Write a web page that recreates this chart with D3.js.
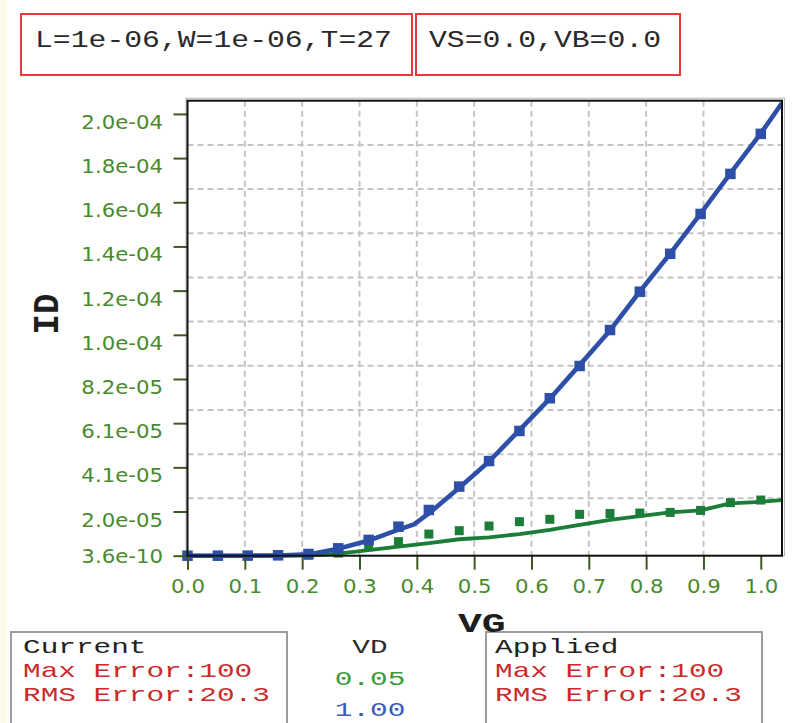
<!DOCTYPE html>
<html>
<head>
<meta charset="utf-8">
<script src="https://cdn.jsdelivr.net/npm/d3@7"></script>
<style>
  html, body { margin: 0; padding: 0; background: #ffffff; }
  svg { display: block; }
</style>
</head>
<body>
<svg id="chart" width="792" height="723"></svg>
<script>
// Gate voltage sweep points
const vg = [0, 0.053, 0.105, 0.158, 0.211, 0.263, 0.316, 0.368, 0.421, 0.474,
            0.526, 0.579, 0.632, 0.684, 0.737, 0.789, 0.842, 0.895, 0.947, 1.0];

// Measured drain current (A), one array per drain bias
const idMeasVd005 = [3.6e-10, 1e-9, 5e-9, 2e-8, 2e-7, 1.2e-6, 4.2e-6, 6.5e-6, 1.0e-5, 1.155e-5,
                     1.37e-5, 1.57e-5, 1.68e-5, 1.91e-5, 1.95e-5, 1.97e-5, 2.0e-5, 2.09e-5, 2.45e-5, 2.57e-5];
const idMeasVd100 = [3.6e-10, 1e-8, 5e-8, 2e-7, 8e-7, 3.4e-6, 7.3e-6, 1.34e-5, 2.11e-5, 3.19e-5,
                     4.37e-5, 5.76e-5, 7.27e-5, 8.76e-5, 1.042e-4, 1.219e-4, 1.394e-4, 1.578e-4, 1.763e-4, 1.948e-4];

// Simulated curves
const vgModel = [0, 0.053, 0.105, 0.158, 0.211, 0.263, 0.316, 0.368, 0.395, 0.421, 0.474,
                 0.526, 0.579, 0.632, 0.684, 0.737, 0.789, 0.842, 0.895, 0.947, 1.0, 1.037];
const idModelVd005 = [0, 0, 0, 0, 1e-7, 1.0e-6, 2.6e-6, 4.2e-6, 5.0e-6, 5.8e-6, 7.6e-6,
                      8.5e-6, 1.0e-5, 1.19e-5, 1.42e-5, 1.65e-5, 1.83e-5, 2.0e-5, 2.09e-5, 2.42e-5, 2.49e-5, 2.57e-5];
const idModelVd100 = [0, 0, 0, 1e-7, 6e-7, 3.2e-6, 7.0e-6, 1.2e-5, 1.45e-5, 1.95e-5, 3.14e-5,
                      4.35e-5, 5.8e-5, 7.25e-5, 8.8e-5, 1.04e-4, 1.22e-4, 1.395e-4, 1.58e-4, 1.765e-4, 1.95e-4, 2.09e-4];

// Axis ticks
const xTicks = [0, 0.1, 0.2, 0.3, 0.4, 0.5, 0.6, 0.7, 0.8, 0.9, 1.0];
const yTicks = [3.6e-10, 2.04e-5, 4.08e-5, 6.12e-5, 8.16e-5, 1.02e-4, 1.224e-4, 1.428e-4, 1.632e-4, 1.836e-4, 2.04e-4];
const xDomain = [0, 1.037];
const yDomain = [3.6e-10, 2.101e-4];
const yStep = 2.04e-5;

// Header and summary texts
const headerTexts = ["L=1e-06,W=1e-06,T=27", "VS=0.0,VB=0.0"];
const vdTitle = "VD";
const vdLabels = ["0.05", "1.00"];
const currentLines = ["Current", "Max Error:100", "RMS Error:20.3"];
const appliedLines = ["Applied", "Max Error:100", "RMS Error:20.3"];

const MONO = "'Liberation Mono', 'Courier New', monospace";
const SANS = "'DejaVu Sans', Verdana, sans-serif";
const GREEN = "#1b7d37";
const BLUE = "#2e4fa8";
const RED = "#cc2b2b";
const TICK_TEXT = "#4a8a2e";
const TICK_LINE = "#3d5a22";

const svg = d3.select("#chart");

// faint cream strip on the left margin
svg.append("rect").attr("x", 0).attr("y", 0).attr("width", 6).attr("height", 723).attr("fill", "#fcfaea");

const plot = { left: 187.5, right: 782, top: 100.7, bottom: 555.7 };

const x = d3.scaleLinear().domain(xDomain).range([plot.left, plot.right]);
const y = d3.scaleLinear().domain(yDomain).range([plot.bottom, plot.top]);

// horizontally widened text helper
function wideText(parent, px, py, str, sx, size, family, fill, weight, anchor) {
  return parent.append("text")
    .attr("transform", `translate(${px},${py}) scale(${sx},1)`)
    .attr("font-family", family)
    .attr("font-size", size)
    .attr("font-weight", weight || "normal")
    .attr("fill", fill)
    .attr("text-anchor", anchor || "start")
    .text(str);
}

// ---- header boxes
const header = svg.append("g");
header.append("rect").attr("x", 21).attr("y", 14).attr("width", 391).attr("height", 61)
  .attr("fill", "#fff").attr("stroke", "#e63b3b").attr("stroke-width", 2);
header.append("rect").attr("x", 416).attr("y", 14).attr("width", 264).attr("height", 61)
  .attr("fill", "#fff").attr("stroke", "#e63b3b").attr("stroke-width", 2);
wideText(header, 35, 47, headerTexts[0], 1.24, 24, MONO, "#2a2a2a");
wideText(header, 429, 47, headerTexts[1], 1.24, 24, MONO, "#2a2a2a");

// ---- plot frame background + grid
svg.append("rect").attr("x", plot.left - 1.5).attr("y", plot.top - 2.5)
  .attr("width", plot.right - plot.left + 4).attr("height", plot.bottom - plot.top + 2.5)
  .attr("fill", "none").attr("stroke", "#b5b5b5").attr("stroke-width", 1);
svg.append("rect").attr("x", plot.left).attr("y", plot.top)
  .attr("width", plot.right - plot.left).attr("height", plot.bottom - plot.top)
  .attr("fill", "#fff");

const grid = svg.append("g").attr("stroke", "#c4c4c4").attr("stroke-width", 2)
  .attr("stroke-dasharray", "6,4");
grid.selectAll("line.v").data(xTicks.filter(d => d > 0 && d < 1.0)).join("line")
  .attr("class", "v")
  .attr("x1", d => x(d)).attr("x2", d => x(d))
  .attr("y1", plot.top).attr("y2", plot.bottom);
grid.selectAll("line.h").data(d3.range(1, 10).map(k => yDomain[1] - k * yStep)).join("line")
  .attr("class", "h")
  .attr("x1", plot.left).attr("x2", plot.right)
  .attr("y1", d => y(d)).attr("y2", d => y(d));

// ---- curves
const clipId = "plotclip";
svg.append("clipPath").attr("id", clipId).append("rect")
  .attr("x", plot.left).attr("y", plot.top - 3)
  .attr("width", plot.right - plot.left).attr("height", plot.bottom - plot.top + 6);

const line = d3.line().x(d => x(d[0])).y(d => y(d[1]));
const series = [
  { model: idModelVd005, meas: idMeasVd005, color: GREEN, width: 3.8, size: 9 },
  { model: idModelVd100, meas: idMeasVd100, color: BLUE, width: 4.6, size: 10.5 }
];

series.forEach(s => {
  svg.append("path")
    .attr("clip-path", `url(#${clipId})`)
    .attr("d", line(vgModel.map((v, i) => [v, s.model[i]])))
    .attr("fill", "none").attr("stroke", s.color).attr("stroke-width", s.width)
    .attr("stroke-linejoin", "round");
});
series.forEach(s => {
  svg.append("g").selectAll("rect").data(vg.map((v, i) => [v, s.meas[i]])).join("rect")
    .attr("x", d => x(d[0]) - s.size / 2).attr("y", d => y(d[1]) - s.size / 2)
    .attr("width", s.size).attr("height", s.size)
    .attr("fill", s.color);
});

// ---- axes
const fmtY = v => {
  const [m, e] = v.toExponential(1).split("e");
  const neg = e[0] === "-";
  const digits = e.replace(/^[-+]/, "").padStart(2, "0");
  return `${m}e${neg ? "-" : ""}${digits}`;
};

const yAxis = svg.append("g").attr("transform", `translate(${plot.left},0)`)
  .call(d3.axisLeft(y).tickValues(yTicks).tickFormat(fmtY).tickSize(14).tickPadding(10));
yAxis.select(".domain").remove();
yAxis.selectAll(".tick line").attr("stroke", TICK_LINE).attr("stroke-width", 2);
const sxLab = 1.12;
yAxis.selectAll(".tick text")
  .attr("font-family", SANS).attr("font-size", 19).attr("fill", TICK_TEXT)
  .attr("dy", null)
  .attr("x", -24.5 / sxLab)
  .attr("y", (d, i) => i === 0 ? 7 : 14.5)
  .attr("transform", `scale(${sxLab},1)`);

const xAxis = svg.append("g").attr("transform", `translate(0,${plot.bottom})`)
  .call(d3.axisBottom(x).tickValues(xTicks).tickFormat(d3.format(".1f")).tickSize(14));
xAxis.select(".domain").remove();
xAxis.selectAll(".tick line").attr("stroke", TICK_LINE).attr("stroke-width", 2);
xAxis.selectAll(".tick text")
  .attr("font-family", SANS).attr("font-size", 19).attr("fill", TICK_TEXT)
  .attr("dy", null).attr("y", 37.5)
  .attr("transform", `scale(${sxLab},1)`);

// frame
svg.append("rect").attr("x", plot.left).attr("y", plot.top)
  .attr("width", plot.right - plot.left).attr("height", plot.bottom - plot.top)
  .attr("fill", "none").attr("stroke", "#111").attr("stroke-width", 2);

// ---- axis titles
svg.append("text")
  .attr("transform", "translate(58,314) rotate(-90) scale(1,1.1)")
  .attr("font-family", MONO).attr("font-size", 34).attr("font-weight", "bold")
  .attr("fill", "#1e1e1e").attr("text-anchor", "middle")
  .text("ID");

// ---- bottom summary boxes
const foot = svg.append("g");
foot.append("rect").attr("x", 11).attr("y", 632).attr("width", 276).attr("height", 120)
  .attr("fill", "#fff").attr("stroke", "#9c9c9c").attr("stroke-width", 2);
foot.append("rect").attr("x", 486).attr("y", 632).attr("width", 276).attr("height", 120)
  .attr("fill", "#fff").attr("stroke", "#9c9c9c").attr("stroke-width", 2);

const lineY = [653, 677, 701];
const FOOT_SIZE = 21, FOOT_SX = 1.4;
currentLines.forEach((t, i) => wideText(foot, 23, lineY[i], t, FOOT_SX, FOOT_SIZE, MONO, i === 0 ? "#222" : RED));
appliedLines.forEach((t, i) => wideText(foot, 495, lineY[i], t, FOOT_SX, FOOT_SIZE, MONO, i === 0 ? "#222" : RED));

wideText(foot, 370, 653, vdTitle, FOOT_SX, FOOT_SIZE, MONO, "#2a2a2a", "normal", "middle");
const vdColors = ["#3c9a3c", "#3a5cb8"];
const vdY = [685, 716];
vdLabels.forEach((t, i) => wideText(foot, 370, vdY[i], t, FOOT_SX, FOOT_SIZE, MONO, vdColors[i], "normal", "middle"));

// x-axis title drawn last: it overlaps the top edge of the right box
wideText(svg, 458, 632, "VG", 1.42, 28, MONO, "#1e1e1e", "bold");
</script>
</body>
</html>
